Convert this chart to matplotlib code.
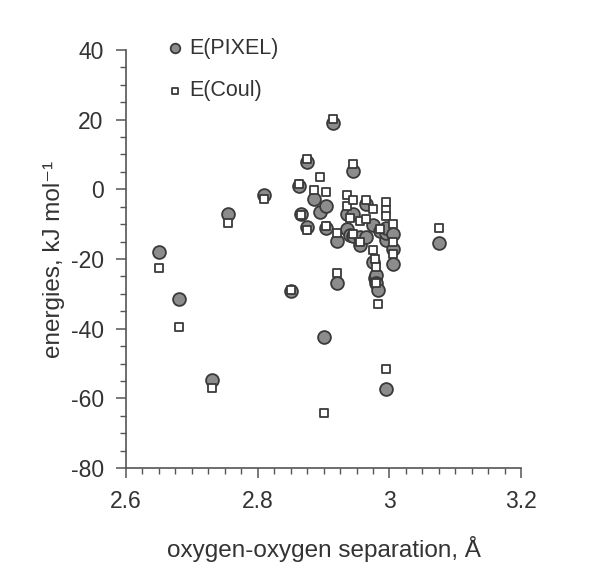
import numpy as np
import matplotlib.pyplot as plt
from matplotlib.ticker import MultipleLocator

# O...O separation (Angstrom) and the two energies (kJ/mol) for each contact
sep = [2.65, 2.68, 2.73, 2.755, 2.81, 2.85, 2.863, 2.865, 2.875, 2.875,
       2.885, 2.895, 2.90, 2.903, 2.903, 2.915, 2.92, 2.92, 2.935, 2.935,
       2.94, 2.945, 2.945, 2.945, 2.955, 2.955, 2.965, 2.965, 2.975, 2.975,
       2.978, 2.98, 2.98, 2.982, 2.985, 2.995, 2.995, 2.995, 2.995, 3.005,
       3.005, 3.005, 3.075]
e_pixel = [-18.0, -31.5, -54.7, -7.2, -1.5, -29.3, 1.0, -7.0, 7.7, -10.8,
           -2.8, -6.5, -42.4, -4.7, -11.0, 18.9, -14.8, -27.0, -11.3, -7.0,
           -13.0, 5.3, -7.0, -13.5, -13.8, -16.0, -4.3, -13.8, -10.2, -21.0,
           -25.5, -24.7, -26.9, -29.0, -12.0, -57.4, -14.6, -12.5, -11.0, -12.7,
           -17.0, -21.4, -15.3]
e_coul = [-22.5, -39.4, -57.1, -9.7, -2.8, -29.0, 1.5, -7.5, 8.6, -11.6,
          -0.3, 3.4, -64.2, -0.8, -10.6, 20.3, -12.4, -24.0, -1.5, -4.8,
          -8.3, 7.2, -3.1, -12.7, -9.2, -15.1, -3.2, -8.6, -5.6, -17.3,
          -20.0, -22.2, -26.9, -32.9, -11.3, -51.7, -3.7, -5.9, -7.8, -10.0,
          -15.1, -18.7, -11.2]

plt.rcParams['font.family'] = ['Liberation Sans', 'DejaVu Sans']
plt.rcParams['axes.unicode_minus'] = False
txt = '#333333'

fig = plt.figure(figsize=(5.97, 5.73), dpi=100)
ax = fig.add_axes([0.211, 0.183, 0.662, 0.730])

ax.scatter(sep, e_pixel, s=85, marker='o', facecolor='#8c8c8c',
           edgecolor='#3a3a3a', linewidth=1.3, label='E(PIXEL)', zorder=2)
ax.scatter(sep, e_coul, s=40, marker='s', facecolor='white',
           edgecolor='#3a3a3a', linewidth=1.3, label='E(Coul)', zorder=3)

ax.set_xlim(2.6, 3.2)
ax.set_ylim(-80, 40)
ax.xaxis.set_minor_locator(MultipleLocator(0.025))
ax.yaxis.set_major_locator(MultipleLocator(20))
ax.yaxis.set_minor_locator(MultipleLocator(5))
ax.set_xticks([2.6, 2.8, 3.0, 3.2])
ax.set_xticklabels(['2.6', '2.8', '3', '3.2'])

for s in ['top', 'right']:
    ax.spines[s].set_visible(False)
for s in ['left', 'bottom']:
    ax.spines[s].set_color('#555555')
    ax.spines[s].set_linewidth(1.2)

ax.tick_params(which='major', length=7, width=1.1, color='#555555',
               labelsize=16.5, labelcolor=txt, pad=9)
ax.tick_params(which='minor', length=4, width=1.0, color='#555555')

ax.set_xlabel('oxygen-oxygen separation, Å', fontsize=17.5, color=txt, labelpad=16)
ax.set_ylabel('energies, kJ mol⁻¹', fontsize=17.5, color=txt, labelpad=4)

leg = ax.legend(loc='upper left', bbox_to_anchor=(0.05, 1.075), frameon=False,
                fontsize=15.5, handlelength=0.9, handletextpad=0.2,
                markerscale=0.75, labelspacing=1.0, labelcolor=txt)

fig.savefig('out.png', dpi=100)
